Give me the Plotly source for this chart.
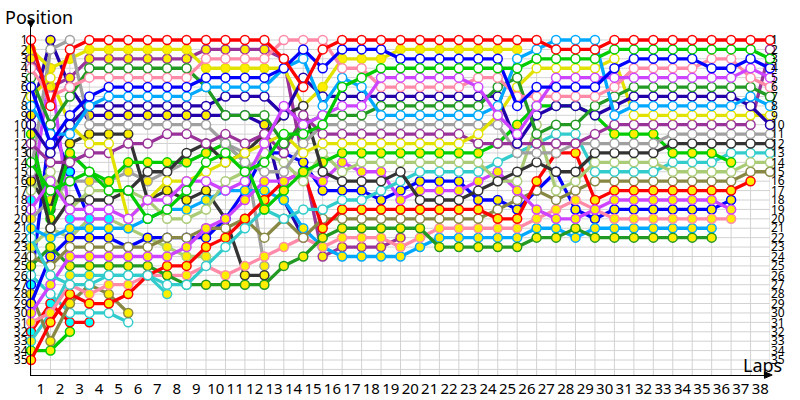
import plotly.graph_objects as go

# Lap columns (0 = starting grid)
LAPS = [0, 1, 2, 3, 4, 5, 6, 7, 8, 9, 10, 11, 12, 13, 14, 15, 16, 17, 18, 19,
        20, 21, 22, 23, 24, 25, 26, 27, 28, 29, 30, 31, 32, 33, 34, 35, 36, 37, 38]
X_TICK_LABELS = ["1", "2", "3", "4", "5", "6", "7", "8", "9", "10", "11", "12", "13",
                 "14", "15", "16", "17", "18", "19", "20", "21", "22", "23", "24", "25",
                 "26", "27", "28", "29", "30", "31", "32", "33", "34", "35", "36", "37", "38"]
POSITIONS = [1, 2, 3, 4, 5, 6, 7, 8, 9, 10, 11, 12, 13, 14, 15, 16, 17, 18, 19, 20,
             21, 22, 23, 24, 25, 26, 27, 28, 29, 30, 31, 32, 33, 34, 35]
POSITION_LABELS = [str(p) for p in POSITIONS]

# Position per lap, one list per driver (list ends when the driver retires)
RED_OPEN = [1, 8, 2, 1, 1, 1, 1, 1, 1, 1, 1, 1, 1, 3, 6, 2, 1, 1, 1, 1, 1, 1, 1, 1, 1, 1, 1,
            2, 2, 2, 1, 1, 1, 1, 1, 1, 1, 1, 1]
BLUE_OPEN = [6, 12, 9, 7, 6, 6, 6, 6, 6, 5, 5, 5, 5, 4, 2, 4, 2, 2, 2, 3, 3, 3, 3, 3, 3, 8,
             6, 6, 6, 6, 4, 3, 3, 3, 3, 4, 4, 3, 4]
YELLOW_FILLED = [2, 4, 3, 2, 2, 2, 2, 2, 2, 4, 4, 4, 4, 4, 8, 6, 3, 3, 3, 2, 2, 2, 2, 2, 2, 2]
PURPLE_FILLED = [3, 6, 5, 3, 3, 3, 3, 3, 3, 2, 2, 2, 2, 3, 14, 24, 23, 23, 23, 22]
PINK_OPEN = [4, 7, 6, 5, 5, 5, 5, 5, 5, 3, 3, 3, 3, 1, 1, 1, 4, 4, 6, 6, 6, 6, 6, 5, 5, 7,
             7, 7, 7, 7, 6, 4, 4, 4, 4, 3, 3, 5, 6]
DKGREEN_OPEN = [5, 10, 7, 4, 4, 4, 4, 4, 4, 6, 9, 9, 9, 12, 10, 9, 9, 9, 8, 8, 8, 8, 8, 8,
                6, 5, 11, 10, 10, 8, 7, 6, 6, 6, 6, 6, 6, 6, 7]
YELLOW_OPEN = [7, 5, 10, 12, 12, 20, 18, 16, 16, 15, 14, 13, 12, 11, 13, 12, 12, 12, 12, 12,
               12, 12, 12, 11, 9, 6, 4, 4, 4, 4, 3, 9, 9, 9, 9, 9, 9, 9, 9]
LTBLUE_OPEN = [8, 11, 11, 8, 7, 7, 7, 7, 7, 6, 6, 6, 6, 4, 3, 8, 5, 6, 9, 9, 9, 9, 9, 9, 8,
               3, 2, 1, 1, 1, 9, 8, 8, 8, 8, 8, 8, 7, 8]
DKBLUE_FILLED = [9, 1, 6, 9, 9, 9, 9, 9, 9, 9, 9, 9, 10, 18, 22]
DKBLUE_OPEN = [10, 13, 10, 8, 8, 8, 8, 8, 8, 8, 7, 7, 7, 9, 5, 7, 7, 7, 7, 7, 7, 7, 7, 7, 7,
               12, 9, 8, 8, 9, 8, 7, 7, 7, 7, 7, 7, 8, 10]
GREEN_FILLED = [11, 20, 13, 15, 16, 14, 14, 14, 14, 13, 12, 14, 19, 17, 15, 14, 13, 13, 13,
                13, 13, 13, 13, 13, 12, 10, 8, 8, 8, 9, 11, 11, 11, 13, 13, 13, 14]
PURPLE_OPEN = [12, 14, 14, 13, 13, 12, 12, 11, 11, 12, 11, 12, 11, 13, 9, 11, 11, 11, 11, 11,
               11, 11, 11, 12, 12, 12, 12, 12, 12, 11, 10, 10, 10, 10, 10, 10, 10, 10, 2]
BLACK_OPEN = [13, 21, 18, 18, 18, 17, 15, 15, 13, 12, 14, 13, 11, 9, 8, 15, 16, 16, 16, 15,
              18, 18, 18, 17, 16, 15, 14, 15, 15, 13, 13, 13, 13, 12, 12, 12, 12, 12, 12]
GREEN_OPEN = [14, 17, 16, 15, 17, 17, 20, 19, 17, 14, 13, 15, 14, 11, 11, 10, 6, 5, 4, 4, 4,
              4, 4, 4, 4, 4, 3, 3, 3, 3, 2, 2, 2, 2, 2, 2, 2, 2, 3]
GRAY_OPEN = [15, 2, 1, 10, 10, 10, 10, 10, 10, 10, 12, 14, 15, 15, 12, 10, 10, 10, 10, 10,
             10, 10, 10, 10, 10, 13, 13, 13, 12, 12, 12, 12, 12, 11, 11, 11, 11, 11, 11]
OLIVE_FILLED = [28, 33, 29, 27, 28, 30]
LTGREEN_OPEN = [17, 15, 19, 17, 17, 17, 18, 20, 20, 19, 16, 15, 13, 14, 16, 13, 15, 14, 14,
                14, 14, 14, 14, 14, 16, 16, 10, 17, 16, 14, 14, 14, 14, 15, 15, 15, 15, 14, 14]
CYAN_OPEN = [22, 26, 27, 27, 26, 26, 26, 27, 27, 25, 23, 21, 19, 20, 19, 19, 18, 18, 17, 16,
             15, 15, 15, 15, 14, 13, 12, 11, 11, 15, 15, 15, 15, 14, 14, 14, 13, 13, 13]
VIOLET_OPEN = [19, 16, 19, 19, 19, 20, 18, 18, 16, 16, 17, 16, 12, 8, 10, 9, 8, 8, 5, 5, 5, 5,
               5, 6, 9, 11, 8, 5, 5, 5, 5, 5, 5, 5, 5, 5, 5, 4, 5]
VIOLET_FILLED = [30, 27, 24, 24, 24, 24, 24, 24, 23, 21, 20, 18, 16, 16, 15, 16, 14, 15, 15,
                 18, 17, 17, 17, 16, 15, 17, 19, 20, 20, 19, 18, 18, 18, 18, 18, 18, 19]
RED_FILLED = [35, 31, 28, 29, 29, 28, 26, 25, 25, 23, 22, 20, 18, 16, 15, 21, 19, 19, 19, 19,
              19, 19, 19, 19, 20, 20, 16, 13, 13, 18, 17, 17, 17, 17, 17, 17, 17, 16]
OLIVE_OPEN = [24, 25, 23, 23, 23, 23, 23, 22, 22, 21, 21, 20, 22, 20, 22, 20, 20, 20, 20, 20,
              20, 20, 20, 20, 19, 18, 17, 18, 17, 16, 16, 16, 16, 16, 16, 16, 16, 15, 15]
DKGREEN_FILLED = [25, 23, 25, 25, 25, 25, 25, 26, 27, 27, 27, 27, 27, 25, 24, 22, 21, 21, 21,
                  21, 21, 23, 23, 23, 23, 23, 22, 22, 21, 22, 22, 22, 22, 22, 22, 22]
PINK_FILLED = [31, 30, 27, 28, 27, 27, 26, 26, 26, 25, 26, 25, 24, 23, 22, 23, 22, 22, 22, 23,
               22, 21, 21, 21, 21, 21, 20, 19, 18, 19, 20, 20, 20, 20, 20, 20, 20]
LTBLUE_FILLED = [21, 22, 21, 21, 21, 21, 20, 19, 19, 18, 17, 17, 17, 18, 21, 23, 24, 24, 24,
                 24, 23, 22, 22, 22, 22, 22, 21, 21, 22, 21, 21, 21, 21, 21, 21, 21]
BLUE_FILLED = [29, 24, 22, 22, 22, 23, 22, 22, 22, 22, 20, 17, 13, 13, 14, 17, 17, 17, 18, 17,
               16, 16, 16, 18, 18, 19, 17, 15, 19, 20, 19, 19, 19, 19, 19, 19, 18]
BLACK_FILLED = [16, 19, 12, 11, 11, 11, 18, 17, 18, 17, 20, 26, 26]
VIOLET_CYAN = [18, 4, 20, 20, 20]
GRAY_FILLED = [20, 18, 16, 16, 16, 15, 16, 15, 14, 13, 12, 13, 25]
LTGREEN_FILLED = [23, 21, 22, 20, 20, 21, 22, 23, 24, 24]
CYAN_FILLED = [33, 30, 26, 26, 26, 26, 26, 28]
BLUE_CYAN = [27, 10, 15, 20]
RED_CYAN = [32, 29, 31, 31]
GREEN_FILLED2 = [34, 34, 32]
CYAN_OPEN2 = [26, 28, 30, 30, 30, 31]

RED, YEL, PUR, PINK = "#ff0000", "#e2e200", "#993399", "#ff8aa8"
DKG, GRN, BLU, LBL = "#229922", "#00cc00", "#0000ff", "#00a8ff"
DBL, GRY, BLK, LGR = "#2200aa", "#a0a0a0", "#333333", "#aacc77"
CYN, OLV, VIO = "#33cccc", "#888844", "#cc44ff"
WHITE, FILL, AQUA = "#ffffff", "#ffee00", "#00ffff"

DRIVERS = [
    (GREEN_FILLED2, GRN, FILL), (RED_CYAN, RED, AQUA), (BLUE_CYAN, BLU, AQUA),
    (CYAN_FILLED, CYN, FILL), (CYAN_OPEN2, CYN, WHITE), (LTGREEN_FILLED, LGR, FILL),
    (GRAY_FILLED, GRY, FILL), (VIOLET_CYAN, VIO, AQUA), (BLACK_FILLED, BLK, FILL),
    (OLIVE_FILLED, OLV, FILL), (DKBLUE_FILLED, DBL, FILL), (PURPLE_FILLED, PUR, FILL),
    (YELLOW_FILLED, YEL, FILL),
    (BLUE_FILLED, BLU, FILL), (LTBLUE_FILLED, LBL, FILL), (PINK_FILLED, PINK, FILL),
    (DKGREEN_FILLED, DKG, FILL), (OLIVE_OPEN, OLV, WHITE), (RED_FILLED, RED, FILL),
    (VIOLET_FILLED, VIO, FILL), (CYAN_OPEN, CYN, WHITE), (LTGREEN_OPEN, LGR, WHITE),
    (GREEN_FILLED, GRN, FILL), (BLACK_OPEN, BLK, WHITE), (GRAY_OPEN, GRY, WHITE),
    (PURPLE_OPEN, PUR, WHITE), (YELLOW_OPEN, YEL, WHITE), (DKBLUE_OPEN, DBL, WHITE),
    (DKGREEN_OPEN, DKG, WHITE), (LTBLUE_OPEN, LBL, WHITE), (PINK_OPEN, PINK, WHITE),
    (VIOLET_OPEN, VIO, WHITE), (BLUE_OPEN, BLU, WHITE), (GREEN_OPEN, GRN, WHITE),
    (RED_OPEN, RED, WHITE),
]

Y_TOP, Y_BOTTOM = -0.594, 36.593
FONT = "Noto Sans"

fig = go.Figure()
for series, lc, fc in DRIVERS:
    fig.add_trace(go.Scatter(
        x=LAPS[:len(series)], y=series, mode="lines+markers",
        line=dict(color=lc, width=3.3),
        marker=dict(size=9, color=fc, line=dict(color=lc, width=1.5)),
        showlegend=False, hoverinfo="skip", cliponaxis=False))

# invisible trace so the right-hand position axis is drawn
fig.add_trace(go.Scatter(x=LAPS[:len(RED_OPEN)], y=RED_OPEN, yaxis="y2", mode="markers",
                         marker=dict(opacity=0), showlegend=False, hoverinfo="skip"))

shapes = []
for lap in LAPS:
    shapes.append(dict(type="line", xref="x", yref="y", x0=lap, x1=lap, y0=1, y1=Y_BOTTOM,
                       line=dict(color="#d2d2d2", width=1), layer="below"))
for p in POSITIONS + [36]:
    shapes.append(dict(type="line", xref="x", yref="y", x0=LAPS[0], x1=LAPS[-1], y0=p, y1=p,
                       line=dict(color="#d2d2d2", width=1), layer="below"))
# axis arrow heads
shapes.append(dict(type="path", xref="paper", yref="paper",
                   path="M -0.0045 1.012 L 0.0045 1.012 L 0 0.994 Z",
                   fillcolor="black", line=dict(color="black", width=1)))
shapes.append(dict(type="path", xref="paper", yref="paper",
                   path="M 0.9925 0.0095 L 0.9925 -0.0095 L 1.003 0 Z",
                   fillcolor="black", line=dict(color="black", width=1)))

fig.update_layout(
    width=800, height=400,
    margin=dict(l=31, r=30, t=25, b=25),
    paper_bgcolor="white", plot_bgcolor="white",
    font=dict(family=FONT, color="black"),
    shapes=shapes,
    xaxis=dict(range=[LAPS[0], LAPS[-1]], showgrid=False, zeroline=False,
               showline=True, linecolor="black", linewidth=1, ticks="", tickangle=0,
               tickvals=[lap - 0.5 for lap in LAPS[1:]], ticktext=X_TICK_LABELS,
               tickfont=dict(size=15, family=FONT, color="black"), automargin=False),
    yaxis=dict(range=[Y_BOTTOM, Y_TOP], showgrid=False, zeroline=False,
               showline=True, linecolor="black", linewidth=1, ticks="",
               tickvals=POSITIONS, ticktext=POSITION_LABELS,
               tickfont=dict(size=12, family=FONT, color="black"), automargin=False),
    yaxis2=dict(range=[Y_BOTTOM, Y_TOP], overlaying="y", side="right", showgrid=False,
                zeroline=False, showline=False, ticks="",
                tickvals=POSITIONS, ticktext=POSITION_LABELS,
                tickfont=dict(size=12, family=FONT, color="black"), automargin=False),
    annotations=[
        dict(text="Position", xref="paper", yref="paper", x=0.0108, y=1.0229,
             xanchor="center", yanchor="middle", showarrow=False,
             font=dict(size=18, family=FONT, color="black")),
        dict(text="Laps", xref="paper", yref="paper", x=0.9905, y=0.028,
             xanchor="center", yanchor="middle", showarrow=False,
             font=dict(size=18, family=FONT, color="black")),
    ],
)

fig.write_html("out.html", config={"displayModeBar": False},
               post_script="document.body.style.margin='0';document.body.style.overflow='hidden';")
